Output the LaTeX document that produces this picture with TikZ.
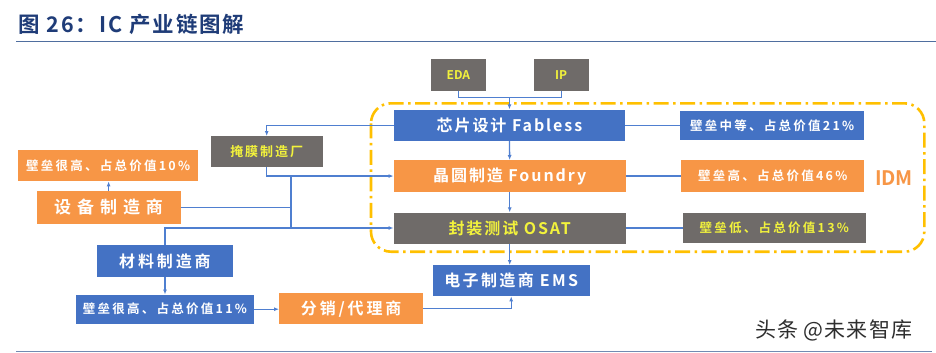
\documentclass[tikz,border=0pt]{standalone}
\usepackage{fontspec}
\setmainfont{Noto Sans CJK SC}[BoldFont={Noto Sans CJK SC Bold}]
\usetikzlibrary{arrows.meta}
\definecolor{cblue}{HTML}{4472C4}
\definecolor{corange}{HTML}{F79646}
\definecolor{cgray}{HTML}{6F6B69}
\definecolor{cyel}{HTML}{F2F23C}
\definecolor{cgold}{HTML}{FFC000}
\definecolor{ctitle}{HTML}{1F3C78}
\definecolor{crule}{HTML}{4F6E9F}
\definecolor{cln}{HTML}{4F7FD0}
\newcommand{\lsp}[1]{\addfontfeatures{LetterSpace=#1}}
\tikzset{
  box/.style={anchor=north west, inner sep=0pt, align=center, font=\bfseries},
  bluebox/.style={box, fill=cblue, text=white},
  orabox/.style={box, fill=corange, text=white},
  graybox/.style={box, fill=cgray, text=cyel},
  big/.style={font=\fontsize{16}{16}\selectfont\bfseries\lsp{12}},
  small/.style={font=\fontsize{12.5}{12.5}\selectfont\bfseries\lsp{18}},
  ln/.style={draw=cln, line width=1.3pt},
  arr/.style={ln, -{Latex[length=5pt,width=4pt]}},
}
\begin{document}
\begin{tikzpicture}[x=1pt,y=-1pt]
\useasboundingbox (0,0) rectangle (936,353);
\fill[white] (0,0) rectangle (936,353);
% title
\node[anchor=west, inner sep=0pt, text=ctitle, font=\fontsize{21.5}{21.5}\selectfont\bfseries\lsp{9}] (title) at (18,24) {图 26：IC 产业链图解};
\draw[crule, line width=1.5pt] (16,41.7) -- (936,41.7);
\draw[crule!80, line width=1.5pt] (16,351.5) -- (932,351.5);
% IDM frame
\draw[cgold, line width=2.6pt, dash pattern=on 15pt off 4.5pt on 2.5pt off 4.5pt, rounded corners=20pt] (371,103.3) rectangle (924.3,251.7);
\node[text=corange, font=\fontsize{20}{20}\selectfont\bfseries, inner sep=0pt] (idm) at (894,178) {IDM};
% top boxes
\node[graybox, minimum width=55, minimum height=31.4, font=\fontsize{12}{12}\selectfont\bfseries] (eda) at (430.7,59.3) {EDA};
\node[graybox, minimum width=55, minimum height=31.4, font=\fontsize{12}{12}\selectfont\bfseries] (ip) at (533.5,59.3) {IP};
% main chain
\node[bluebox, big, minimum width=231.5, minimum height=31.4] (fab) at (393.5,109.3) {芯片设计 Fabless};
\node[orabox, big, minimum width=232, minimum height=31.7] (fou) at (393.5,160) {晶圆制造 Foundry};
\node[graybox, big, minimum width=232, minimum height=31] (osat) at (393.5,212.3) {封装测试 OSAT};
% right value boxes
\node[bluebox, small, minimum width=184, minimum height=29] (r1) at (680,111) {壁垒中等、占总价值21\%};
\node[orabox, small, minimum width=183, minimum height=31.7] (r2) at (681,160) {壁垒高、占总价值46\%};
\node[graybox, small, minimum width=183.3, minimum height=30] (r3) at (682.5,212.7) {壁垒低、占总价值13\%};
% left side
\node[graybox, minimum width=111.6, minimum height=30.7, font=\fontsize{13}{13}\selectfont\bfseries\lsp{15}] (mask) at (210.7,136) {掩膜制造厂};
\node[orabox, small, minimum width=179.7, minimum height=31] (v10) at (18,150) {壁垒很高、占总价值10\%};
\node[orabox, big, minimum width=143.8, minimum height=32.3, font=\fontsize{17}{17}\selectfont\bfseries\lsp{35}] (equip) at (36.5,191) {设备制造商};
\node[bluebox, big, minimum width=136.4, minimum height=31.7, font=\fontsize{16}{16}\selectfont\bfseries\lsp{18}] (mat) at (96.6,245) {材料制造商};
\node[bluebox, small, minimum width=177.8, minimum height=29] (v11) at (75.9,294.5) {壁垒很高、占总价值11\%};
\node[orabox, big, minimum width=144, minimum height=31, font=\fontsize{16}{16}\selectfont\bfseries\lsp{18}] (dist) at (279,293) {分销/代理商};
\node[bluebox, big, minimum width=157.2, minimum height=31, font=\fontsize{16}{16}\selectfont\bfseries\lsp{15}] (ems) at (432.4,265) {电子制造商 EMS};
% watermark
\node[anchor=west, inner sep=0pt, text=black!82, font=\fontsize{21}{21}\selectfont\lsp{5}] (wm) at (755,330) {头条 @未来智库};
% connectors
\coordinate (jn) at (fab.north |- 0,97.3);
\draw[ln] (eda.south) |- (jn) -| (ip.south);
\draw[arr] (jn) -- (fab.north);
\draw[arr] (fab.south) -- (fou.north);
\draw[arr] (fou.south) -- (osat.north);
\draw[arr] (osat.south) -- (osat.south |- ems.north);
\draw[ln] (fab.east) -- (r1.west |- fab.east);
\draw[ln] (fou.east) -- (r2.west |- fou.east);
\draw[ln] (osat.east) -- (r3.west |- osat.east);
\draw[arr] (fab.west) -| (mask.north);
\draw[arr] (mask.south) |- (fou.west);
\coordinate (jx) at (291,0);
\draw[ln] (jx |- fou.west) -- (jx |- osat.west);
\draw[ln] (equip.east) -- (jx |- equip.east);
\draw[arr] (mat.north) |- (osat.west);
\draw[arr] (equip.north) -- (equip.north |- v10.south);
\draw[arr] (mat.south) -- (mat.south |- v11.north);
\draw[arr] (v11.east) -- (v11.east -| dist.west);
\draw[arr] (dist.east) -| (ems.south);
\end{tikzpicture}
\end{document}
